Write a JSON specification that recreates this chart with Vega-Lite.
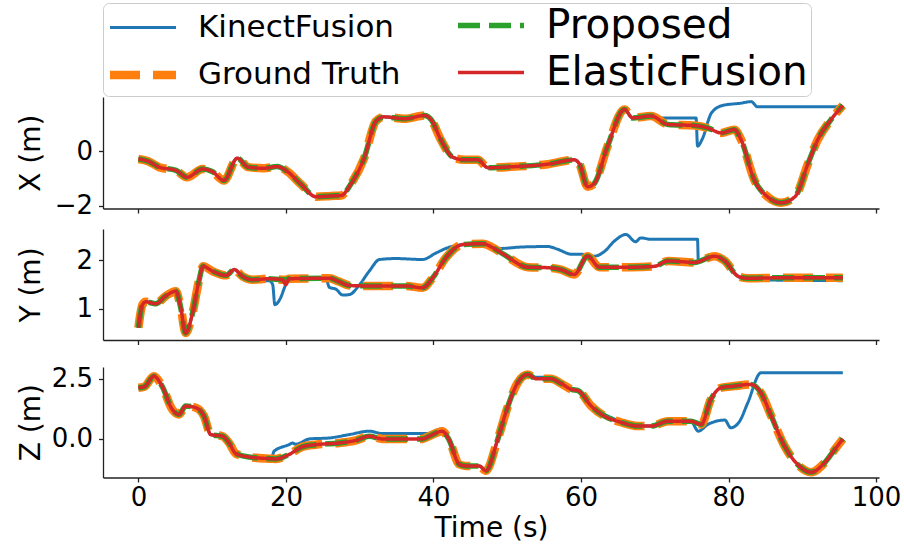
{
  "$schema": "https://vega.github.io/schema/vega-lite/v6.json",
  "padding": {"left": 17, "top": 2, "right": 5, "bottom": 2},
  "datasets": {
    "traj": [
      {"c":"X","t":0,"GT":-0.28,"P":-0.28,"EF":-0.28,"KF":-0.28},
      {"c":"X","t":1.4,"GT":-0.37,"P":-0.37,"EF":-0.37,"KF":-0.37},
      {"c":"X","t":2.8,"GT":-0.58,"P":-0.58,"EF":-0.58,"KF":-0.58},
      {"c":"X","t":5.1,"GT":-0.7,"P":-0.7,"EF":-0.7,"KF":-0.7},
      {"c":"X","t":6.6,"GT":-0.95,"P":-0.95,"EF":-0.95,"KF":-0.95},
      {"c":"X","t":8.7,"GT":-0.65,"P":-0.65,"EF":-0.65,"KF":-0.65},
      {"c":"X","t":10,"GT":-0.74,"P":-0.74,"EF":-0.74,"KF":-0.74},
      {"c":"X","t":11.6,"GT":-1.07,"P":-1.07,"EF":-1.07,"KF":-1.07},
      {"c":"X","t":13.4,"GT":-0.25,"P":-0.25,"EF":-0.25,"KF":-0.25},
      {"c":"X","t":14.9,"GT":-0.58,"P":-0.58,"EF":-0.58,"KF":-0.58},
      {"c":"X","t":17,"GT":-0.62,"P":-0.62,"EF":-0.62,"KF":-0.62},
      {"c":"X","t":18.8,"GT":-0.56,"P":-0.56,"EF":-0.56,"KF":-0.56},
      {"c":"X","t":20.2,"GT":-0.74,"P":-0.74,"EF":-0.74,"KF":-0.74},
      {"c":"X","t":22,"GT":-1.2,"P":-1.2,"EF":-1.2,"KF":-1.2},
      {"c":"X","t":24.1,"GT":-1.67,"P":-1.67,"EF":-1.67,"KF":-1.67},
      {"c":"X","t":26.1,"GT":-1.64,"P":-1.64,"EF":-1.64,"KF":-1.64},
      {"c":"X","t":27.5,"GT":-1.62,"P":-1.62,"EF":-1.62,"KF":-1.62},
      {"c":"X","t":28.8,"GT":-1.2,"P":-1.2,"EF":-1.2,"KF":-1.2},
      {"c":"X","t":30.6,"GT":-0.25,"P":-0.25,"EF":-0.25,"KF":-0.25},
      {"c":"X","t":32.2,"GT":1.11,"P":1.11,"EF":1.11,"KF":1.11},
      {"c":"X","t":33.3,"GT":1.27,"P":1.27,"EF":1.27,"KF":1.27},
      {"c":"X","t":36.1,"GT":1.2,"P":1.2,"EF":1.2,"KF":1.2},
      {"c":"X","t":38.8,"GT":1.32,"P":1.32,"EF":1.32,"KF":1.32},
      {"c":"X","t":39.7,"GT":1.16,"P":1.16,"EF":1.16,"KF":1.16},
      {"c":"X","t":41,"GT":0.43,"P":0.43,"EF":0.43,"KF":0.43},
      {"c":"X","t":42.6,"GT":-0.21,"P":-0.21,"EF":-0.21,"KF":-0.21},
      {"c":"X","t":44.2,"GT":-0.31,"P":-0.31,"EF":-0.31,"KF":-0.31},
      {"c":"X","t":46,"GT":-0.31,"P":-0.31,"EF":-0.31,"KF":-0.31},
      {"c":"X","t":47.4,"GT":-0.6,"P":-0.6,"EF":-0.6,"KF":-0.6},
      {"c":"X","t":51,"GT":-0.56,"P":-0.56,"EF":-0.56,"KF":-0.56},
      {"c":"X","t":55.5,"GT":-0.47,"P":-0.47,"EF":-0.47,"KF":-0.47},
      {"c":"X","t":59.1,"GT":-0.31,"P":-0.31,"EF":-0.31,"KF":-0.31},
      {"c":"X","t":59.8,"GT":-0.47,"P":-0.47,"EF":-0.47,"KF":-0.47},
      {"c":"X","t":60.9,"GT":-1.3,"P":-1.3,"EF":-1.3,"KF":-1.3},
      {"c":"X","t":61.8,"GT":-1.18,"P":-1.18,"EF":-1.18,"KF":-1.18},
      {"c":"X","t":63.6,"GT":0.19,"P":0.19,"EF":0.19,"KF":0.19},
      {"c":"X","t":65.9,"GT":1.54,"P":1.54,"EF":1.54,"KF":1.54},
      {"c":"X","t":67,"GT":1.23,"P":1.23,"EF":1.23,"KF":1.23},
      {"c":"X","t":69.5,"GT":1.3,"P":1.3,"EF":1.3,"KF":1.3},
      {"c":"X","t":70.5,"KF":1.23},
      {"c":"X","t":71.8,"GT":0.99,"P":0.99,"EF":0.99},
      {"c":"X","t":75.4,"GT":0.95,"P":0.95,"EF":0.95},
      {"c":"X","t":75.6,"KF":1.23},
      {"c":"X","t":75.8,"KF":0.19},
      {"c":"X","t":76.4,"KF":0.43},
      {"c":"X","t":77.2,"GT":0.86,"P":0.86,"EF":0.86},
      {"c":"X","t":77.7,"KF":1.42},
      {"c":"X","t":79,"GT":0.68,"P":0.68,"EF":0.68},
      {"c":"X","t":79.2,"KF":1.69},
      {"c":"X","t":80.8,"GT":0.8,"P":0.8,"EF":0.8},
      {"c":"X","t":81.6,"KF":1.77},
      {"c":"X","t":81.7,"GT":0.43,"P":0.43,"EF":0.43},
      {"c":"X","t":83.1,"KF":1.83},
      {"c":"X","t":83.5,"GT":-1.05,"P":-1.05,"EF":-1.05},
      {"c":"X","t":83.9,"KF":1.64},
      {"c":"X","t":85.3,"GT":-1.67,"P":-1.67,"EF":-1.67},
      {"c":"X","t":87.1,"GT":-1.89,"P":-1.89,"EF":-1.89},
      {"c":"X","t":89,"GT":-1.67,"P":-1.67,"EF":-1.67},
      {"c":"X","t":90.8,"GT":-0.43,"P":-0.43,"EF":-0.43},
      {"c":"X","t":92.1,"GT":0.43,"P":0.43,"EF":0.43},
      {"c":"X","t":93.9,"GT":1.17,"P":1.17,"EF":1.17},
      {"c":"X","t":95.5,"GT":1.69,"P":1.69,"EF":1.69,"KF":1.64},

      {"c":"Y","t":0,"GT":0.6,"P":0.6,"EF":0.6,"KF":0.6},
      {"c":"Y","t":0.55,"GT":1.08,"P":1.08,"EF":1.08,"KF":1.08},
      {"c":"Y","t":1.0,"GT":1.14,"P":1.14,"EF":1.14,"KF":1.14},
      {"c":"Y","t":2.35,"GT":1.1,"P":1.1,"EF":1.1,"KF":1.1},
      {"c":"Y","t":3.7,"GT":1.26,"P":1.26,"EF":1.26,"KF":1.26},
      {"c":"Y","t":5.06,"GT":1.36,"P":1.36,"EF":1.36,"KF":1.36},
      {"c":"Y","t":5.75,"GT":1.01,"P":1.01,"EF":1.01,"KF":1.01},
      {"c":"Y","t":6.4,"GT":0.49,"P":0.49,"EF":0.49,"KF":0.44},
      {"c":"Y","t":7.3,"GT":0.88,"P":0.88,"EF":0.88,"KF":0.88},
      {"c":"Y","t":8.2,"GT":1.57,"P":1.57,"EF":1.57,"KF":1.57},
      {"c":"Y","t":8.77,"GT":1.88,"P":1.88,"EF":1.88,"KF":1.88},
      {"c":"Y","t":10,"GT":1.78,"P":1.78,"EF":1.78,"KF":1.78},
      {"c":"Y","t":11.9,"GT":1.69,"P":1.69,"EF":1.69,"KF":1.69},
      {"c":"Y","t":13,"GT":1.81,"P":1.81,"EF":1.81,"KF":1.81},
      {"c":"Y","t":14.1,"GT":1.67,"P":1.67,"EF":1.67,"KF":1.67},
      {"c":"Y","t":15.5,"GT":1.6,"P":1.6,"EF":1.6,"KF":1.58},
      {"c":"Y","t":17.7,"GT":1.62,"P":1.62,"EF":1.62,"KF":1.58},
      {"c":"Y","t":18.2,"KF":1.5},
      {"c":"Y","t":18.5,"KF":1.08},
      {"c":"Y","t":19.3,"KF":1.23},
      {"c":"Y","t":19.5,"GT":1.6,"P":1.6,"EF":1.6},
      {"c":"Y","t":19.9,"KF":1.47},
      {"c":"Y","t":20,"GT":1.6,"P":1.6,"EF":1.5},
      {"c":"Y","t":20.4,"GT":1.62,"P":1.62,"EF":1.62},
      {"c":"Y","t":20.6,"KF":1.63},
      {"c":"Y","t":25.4,"KF":1.62},
      {"c":"Y","t":25.9,"GT":1.63,"P":1.63,"EF":1.63,"KF":1.44},
      {"c":"Y","t":26.8,"KF":1.4},
      {"c":"Y","t":27.2,"GT":1.56,"P":1.56,"EF":1.56},
      {"c":"Y","t":27.7,"KF":1.28},
      {"c":"Y","t":28.6,"GT":1.48,"P":1.48,"EF":1.48,"KF":1.29},
      {"c":"Y","t":30,"KF":1.5},
      {"c":"Y","t":31.3,"GT":1.47,"P":1.47,"EF":1.47,"KF":1.78},
      {"c":"Y","t":32.7,"KF":2.02},
      {"c":"Y","t":34.9,"KF":2.04},
      {"c":"Y","t":36.3,"GT":1.47,"P":1.47,"EF":1.47},
      {"c":"Y","t":38.5,"GT":1.43,"P":1.43,"EF":1.43,"KF":2.02},
      {"c":"Y","t":39.9,"GT":1.64,"P":1.64,"EF":1.64},
      {"c":"Y","t":40.4,"KF":2.16},
      {"c":"Y","t":41.7,"GT":2.06,"P":2.06,"EF":2.06},
      {"c":"Y","t":42.2,"KF":2.28},
      {"c":"Y","t":43.5,"KF":2.32},
      {"c":"Y","t":43.9,"GT":2.33,"P":2.33,"EF":2.33},
      {"c":"Y","t":46.7,"GT":2.35,"P":2.35,"EF":2.35,"KF":2.35},
      {"c":"Y","t":48,"GT":2.27,"P":2.27,"EF":2.27},
      {"c":"Y","t":49.1,"KF":2.25},
      {"c":"Y","t":49.6,"GT":2.12,"P":2.12,"EF":2.12},
      {"c":"Y","t":51.9,"KF":2.28},
      {"c":"Y","t":52.8,"GT":1.86,"P":1.86,"EF":1.86},
      {"c":"Y","t":55.5,"GT":1.85,"P":1.85,"EF":1.85,"KF":2.29},
      {"c":"Y","t":56.9,"KF":2.23},
      {"c":"Y","t":57.3,"GT":1.81,"P":1.81,"EF":1.81},
      {"c":"Y","t":58.7,"KF":2.13},
      {"c":"Y","t":59.1,"GT":1.71,"P":1.71,"EF":1.71},
      {"c":"Y","t":60,"KF":2.13},
      {"c":"Y","t":60.9,"GT":2.09,"P":2.09,"EF":2.09},
      {"c":"Y","t":61.8,"KF":2.09},
      {"c":"Y","t":62.5,"GT":1.86,"P":1.86,"EF":1.86},
      {"c":"Y","t":63.2,"KF":2.19},
      {"c":"Y","t":64.5,"KF":2.4},
      {"c":"Y","t":66.1,"KF":2.54},
      {"c":"Y","t":66.8,"GT":1.86,"P":1.86,"EF":1.86},
      {"c":"Y","t":67.4,"KF":2.39},
      {"c":"Y","t":68.1,"KF":2.47},
      {"c":"Y","t":69.5,"KF":2.44},
      {"c":"Y","t":70,"GT":1.88,"P":1.88,"EF":1.88},
      {"c":"Y","t":71.8,"GT":1.99,"P":1.99,"EF":1.99},
      {"c":"Y","t":75.4,"GT":1.96,"P":1.96,"EF":1.96},
      {"c":"Y","t":75.8,"KF":2.44},
      {"c":"Y","t":75.9,"KF":2.0},
      {"c":"Y","t":78.1,"GT":2.09,"P":2.09,"EF":2.09,"KF":2.09},
      {"c":"Y","t":79.5,"GT":1.99,"P":1.99,"EF":1.99,"KF":1.99},
      {"c":"Y","t":81.3,"GT":1.67,"P":1.67,"EF":1.67,"KF":1.67},
      {"c":"Y","t":82.6,"GT":1.63,"P":1.63,"EF":1.63,"KF":1.6},
      {"c":"Y","t":87.1,"GT":1.64,"P":1.64,"EF":1.64,"KF":1.59},
      {"c":"Y","t":95.5,"GT":1.64,"P":1.64,"EF":1.64,"KF":1.58},

      {"c":"Z","t":0,"GT":2.12,"P":2.12,"EF":2.12,"KF":2.12},
      {"c":"Z","t":0.8,"GT":2.16,"P":2.16,"EF":2.16,"KF":2.16},
      {"c":"Z","t":2.1,"GT":2.6,"P":2.6,"EF":2.6,"KF":2.6},
      {"c":"Z","t":3.2,"GT":2.19,"P":2.19,"EF":2.19,"KF":2.19},
      {"c":"Z","t":4.6,"GT":1.22,"P":1.22,"EF":1.22,"KF":1.22},
      {"c":"Z","t":5.5,"GT":1.01,"P":1.01,"EF":1.01,"KF":1.01},
      {"c":"Z","t":6.4,"GT":1.36,"P":1.36,"EF":1.36,"KF":1.36},
      {"c":"Z","t":7.8,"GT":1.29,"P":1.29,"EF":1.29,"KF":1.29},
      {"c":"Z","t":8.9,"GT":0.94,"P":0.94,"EF":0.94,"KF":0.94},
      {"c":"Z","t":9.8,"GT":0.18,"P":0.18,"EF":0.18,"KF":0.18},
      {"c":"Z","t":11.4,"GT":0.11,"P":0.11,"EF":0.11,"KF":0.11},
      {"c":"Z","t":12.3,"GT":-0.17,"P":-0.17,"EF":-0.17,"KF":-0.17},
      {"c":"Z","t":13.2,"GT":-0.61,"P":-0.61,"EF":-0.61,"KF":-0.61},
      {"c":"Z","t":15,"GT":-0.75,"P":-0.75,"EF":-0.75,"KF":-0.75},
      {"c":"Z","t":18,"GT":-0.82,"P":-0.82,"EF":-0.82,"KF":-0.82},
      {"c":"Z","t":18.4,"KF":-0.51},
      {"c":"Z","t":18.6,"GT":-0.83,"P":-0.83,"EF":-0.83},
      {"c":"Z","t":20.4,"GT":-0.65,"P":-0.65,"EF":-0.65,"KF":-0.24},
      {"c":"Z","t":20.9,"KF":-0.17},
      {"c":"Z","t":21.3,"KF":-0.22},
      {"c":"Z","t":22.2,"GT":-0.33,"P":-0.33,"EF":-0.33},
      {"c":"Z","t":23.2,"KF":0.0},
      {"c":"Z","t":24,"GT":-0.24,"P":-0.24,"EF":-0.24},
      {"c":"Z","t":25.9,"KF":0.04},
      {"c":"Z","t":27.2,"GT":-0.17,"P":-0.17,"EF":-0.17},
      {"c":"Z","t":28.6,"KF":0.18},
      {"c":"Z","t":29.5,"GT":-0.06,"P":-0.06,"EF":-0.06},
      {"c":"Z","t":31.3,"GT":0.11,"P":0.11,"EF":0.11,"KF":0.32},
      {"c":"Z","t":33.1,"GT":0.0,"P":0.0,"EF":0.0,"KF":0.22},
      {"c":"Z","t":38.5,"GT":0.0,"P":0.0,"EF":0.0},
      {"c":"Z","t":39,"KF":0.22},
      {"c":"Z","t":39.4,"GT":0.11,"P":0.11,"EF":0.11},
      {"c":"Z","t":41.2,"GT":0.32,"P":0.32,"EF":0.32,"KF":0.42},
      {"c":"Z","t":42.1,"GT":-0.03,"P":-0.03,"EF":-0.03,"KF":-0.03},
      {"c":"Z","t":43.5,"GT":-1.05,"P":-1.05,"EF":-1.05,"KF":-1.05},
      {"c":"Z","t":44.4,"GT":-1.12,"P":-1.12,"EF":-1.12,"KF":-1.12},
      {"c":"Z","t":46.2,"GT":-1.12,"P":-1.12,"EF":-1.12,"KF":-1.12},
      {"c":"Z","t":47.1,"GT":-1.32,"P":-1.32,"EF":-1.32,"KF":-1.32},
      {"c":"Z","t":48.7,"GT":-0.03,"P":-0.03,"EF":-0.03,"KF":-0.03},
      {"c":"Z","t":50.1,"GT":1.36,"P":1.36,"EF":1.36,"KF":1.36},
      {"c":"Z","t":51.4,"GT":2.32,"P":2.32,"EF":2.32,"KF":2.32},
      {"c":"Z","t":52.8,"GT":2.67,"P":2.67,"EF":2.67,"KF":2.72},
      {"c":"Z","t":53.9,"GT":2.49,"P":2.49,"EF":2.49,"KF":2.55},
      {"c":"Z","t":55.9,"GT":2.49,"P":2.49,"EF":2.49,"KF":2.55},
      {"c":"Z","t":57.3,"GT":2.3,"P":2.3,"EF":2.3,"KF":2.36},
      {"c":"Z","t":58.7,"GT":2.05,"P":2.05,"EF":2.05,"KF":2.1},
      {"c":"Z","t":59.6,"GT":2.0,"P":2.0,"EF":2.0,"KF":2.0},
      {"c":"Z","t":61.4,"GT":1.36,"P":1.36,"EF":1.36,"KF":1.36},
      {"c":"Z","t":63.2,"GT":0.94,"P":0.94,"EF":0.94,"KF":1.02},
      {"c":"Z","t":65.4,"GT":0.69,"P":0.69,"EF":0.69,"KF":0.72},
      {"c":"Z","t":67.7,"GT":0.53,"P":0.53,"EF":0.53,"KF":0.53},
      {"c":"Z","t":69.5,"GT":0.53,"P":0.53,"EF":0.53,"KF":0.53},
      {"c":"Z","t":71.8,"GT":0.73,"P":0.73,"EF":0.73,"KF":0.73},
      {"c":"Z","t":74.9,"GT":0.73,"P":0.73,"EF":0.73,"KF":0.73},
      {"c":"Z","t":75.9,"KF":0.32},
      {"c":"Z","t":76.3,"GT":0.6,"P":0.6,"EF":0.6},
      {"c":"Z","t":77.2,"KF":0.6},
      {"c":"Z","t":77.6,"GT":1.63,"P":1.63,"EF":1.63},
      {"c":"Z","t":79,"GT":2.12,"P":2.12,"EF":2.12},
      {"c":"Z","t":79.5,"KF":0.78},
      {"c":"Z","t":80.3,"KF":0.46},
      {"c":"Z","t":80.8,"GT":2.19,"P":2.19,"EF":2.19},
      {"c":"Z","t":81.5,"KF":0.73},
      {"c":"Z","t":82.6,"KF":1.49},
      {"c":"Z","t":83,"GT":2.26,"P":2.26,"EF":2.26},
      {"c":"Z","t":84.4,"GT":1.91,"P":1.91,"EF":1.91,"KF":2.74},
      {"c":"Z","t":85.8,"GT":0.94,"P":0.94,"EF":0.94},
      {"c":"Z","t":87.6,"GT":-0.3,"P":-0.3,"EF":-0.3},
      {"c":"Z","t":89.4,"GT":-1.07,"P":-1.07,"EF":-1.07},
      {"c":"Z","t":91.2,"GT":-1.38,"P":-1.38,"EF":-1.38},
      {"c":"Z","t":93,"GT":-1.0,"P":-1.0,"EF":-1.0},
      {"c":"Z","t":94.4,"GT":-0.44,"P":-0.44,"EF":-0.44},
      {"c":"Z","t":95.5,"GT":0.0,"P":0.0,"EF":0.0,"KF":2.74}
    ]
  },
  "data": {"name": "traj"},
  "transform": [
    {"fold": ["KF", "GT", "P", "EF"], "as": ["method", "value"]},
    {"filter": "isValid(datum.value)"}
  ],
  "spacing": 6,
  "vconcat": [
    {
      "width": 776, "height": 111.5,
      "transform": [{"filter": "datum.c == 'X'"}],
      "encoding": {
        "x": {"field": "t", "type": "quantitative", "scale": {"domain": [-4.8, 100.4], "nice": false, "zero": false},
              "axis": {"values": [0, 20, 40, 60, 80, 100], "labels": false, "title": null}},
        "y": {"field": "value", "type": "quantitative", "scale": {"domain": [-2.1, 2.0], "nice": false, "zero": false},
              "axis": {"values": [-2, 0], "title": "X (m)"}},
        "color": {"field": "method", "type": "nominal",
                  "scale": {"domain": ["KF", "GT", "P", "EF"], "range": ["#1f77b4", "#ff7f0e", "#2ca02c", "#d62728"]},
                  "legend": {"orient": "none", "legendX": 0, "legendY": -94,
                             "labelExpr": "datum.label == 'KF' ? 'KinectFusion' : datum.label == 'GT' ? 'Ground Truth' : datum.label == 'P' ? 'Proposed' : 'ElasticFusion'"}},
        "strokeDash": {"field": "method", "type": "nominal",
                  "scale": {"domain": ["KF", "GT", "P", "EF"], "range": [[1, 0], [30, 13], [22, 9], [1, 0]]}},
        "strokeWidth": {"field": "method", "type": "nominal",
                  "scale": {"type": "ordinal", "domain": ["KF", "GT", "P", "EF"], "range": [3, 8.5, 5.5, 3.5]}}
      },
      "layer": [
        {"transform": [{"filter": "datum.method == 'KF'"}], "mark": {"type": "line", "interpolate": "monotone"}},
        {"transform": [{"filter": "datum.method == 'GT'"}], "mark": {"type": "line", "interpolate": "monotone"}},
        {"transform": [{"filter": "datum.method == 'P'"}], "mark": {"type": "line", "interpolate": "monotone"}},
        {"transform": [{"filter": "datum.method == 'EF'"}], "mark": {"type": "line", "interpolate": "monotone"}}
      ]
    },
    {
      "width": 776, "height": 111,
      "transform": [{"filter": "datum.c == 'Y'"}],
      "encoding": {
        "x": {"field": "t", "type": "quantitative", "scale": {"domain": [-4.8, 100.4], "nice": false, "zero": false},
              "axis": {"values": [0, 20, 40, 60, 80, 100], "labels": false, "title": null}},
        "y": {"field": "value", "type": "quantitative", "scale": {"domain": [0.345, 2.655], "nice": false, "zero": false},
              "axis": {"values": [1, 2], "title": "Y (m)"}},
        "color": {"field": "method", "type": "nominal",
                  "scale": {"domain": ["KF", "GT", "P", "EF"], "range": ["#1f77b4", "#ff7f0e", "#2ca02c", "#d62728"]}},
        "strokeDash": {"field": "method", "type": "nominal",
                  "scale": {"domain": ["KF", "GT", "P", "EF"], "range": [[1, 0], [30, 13], [22, 9], [1, 0]]}},
        "strokeWidth": {"field": "method", "type": "nominal",
                  "scale": {"type": "ordinal", "domain": ["KF", "GT", "P", "EF"], "range": [3, 8.5, 5.5, 3.5]}}
      },
      "layer": [
        {"transform": [{"filter": "datum.method == 'KF'"}], "mark": {"type": "line", "interpolate": "monotone"}},
        {"transform": [{"filter": "datum.method == 'GT'"}], "mark": {"type": "line", "interpolate": "monotone"}},
        {"transform": [{"filter": "datum.method == 'P'"}], "mark": {"type": "line", "interpolate": "monotone"}},
        {"transform": [{"filter": "datum.method == 'EF'"}], "mark": {"type": "line", "interpolate": "monotone"}}
      ]
    },
    {
      "width": 776, "height": 110.5,
      "transform": [{"filter": "datum.c == 'Z'"}],
      "encoding": {
        "x": {"field": "t", "type": "quantitative", "scale": {"domain": [-4.8, 100.4], "nice": false, "zero": false},
              "axis": {"values": [0, 20, 40, 60, 80, 100], "title": "Time (s)", "labelPadding": 2, "titlePadding": 4}},
        "y": {"field": "value", "type": "quantitative", "scale": {"domain": [-1.6, 2.98], "nice": false, "zero": false},
              "axis": {"values": [0, 2.5], "format": ".1f", "title": "Z (m)"}},
        "color": {"field": "method", "type": "nominal",
                  "scale": {"domain": ["KF", "GT", "P", "EF"], "range": ["#1f77b4", "#ff7f0e", "#2ca02c", "#d62728"]}},
        "strokeDash": {"field": "method", "type": "nominal",
                  "scale": {"domain": ["KF", "GT", "P", "EF"], "range": [[1, 0], [30, 13], [22, 9], [1, 0]]}},
        "strokeWidth": {"field": "method", "type": "nominal",
                  "scale": {"type": "ordinal", "domain": ["KF", "GT", "P", "EF"], "range": [3, 8.5, 5.5, 3.5]}}
      },
      "layer": [
        {"transform": [{"filter": "datum.method == 'KF'"}], "mark": {"type": "line", "interpolate": "monotone"}},
        {"transform": [{"filter": "datum.method == 'GT'"}], "mark": {"type": "line", "interpolate": "monotone"}},
        {"transform": [{"filter": "datum.method == 'P'"}], "mark": {"type": "line", "interpolate": "monotone"}},
        {"transform": [{"filter": "datum.method == 'EF'"}], "mark": {"type": "line", "interpolate": "monotone"}}
      ]
    }
  ],
  "resolve": {"scale": {"color": "shared", "strokeDash": "shared", "strokeWidth": "shared"}},
  "config": {
    "font": "DejaVu Sans",
    "view": {"stroke": null},
    "axis": {
      "grid": false,
      "domainColor": "#222222",
      "domainWidth": 1.3,
      "tickColor": "#222222",
      "tickWidth": 1.3,
      "tickSize": 4.5,
      "labelFont": "DejaVu Sans",
      "labelFontSize": 26,
      "labelColor": "black",
      "labelPadding": 6,
      "titleFont": "DejaVu Sans",
      "titleFontSize": 28,
      "titleFontWeight": "normal",
      "titleColor": "black"
    },
    "axisY": {"minExtent": 50, "maxExtent": 50, "titlePadding": 8},
    "legend": {
      "columns": 2,
      "title": null,
      "symbolType": "M-2,0H2",
      "symbolSize": 1089,
      "symbolOffset": 16,
      "symbolOpacity": 1,
      "labelFont": "DejaVu Sans",
      "labelColor": "black",
      "labelFontSize": {"expr": "datum.value == 'P' || datum.value == 'EF' ? 40.5 : 31"},
      "labelLimit": 500,
      "labelOffset": 34,
      "strokeColor": "#cccccc",
      "cornerRadius": 6,
      "padding": 3,
      "rowPadding": 6,
      "columnPadding": 46
    }
  }
}
